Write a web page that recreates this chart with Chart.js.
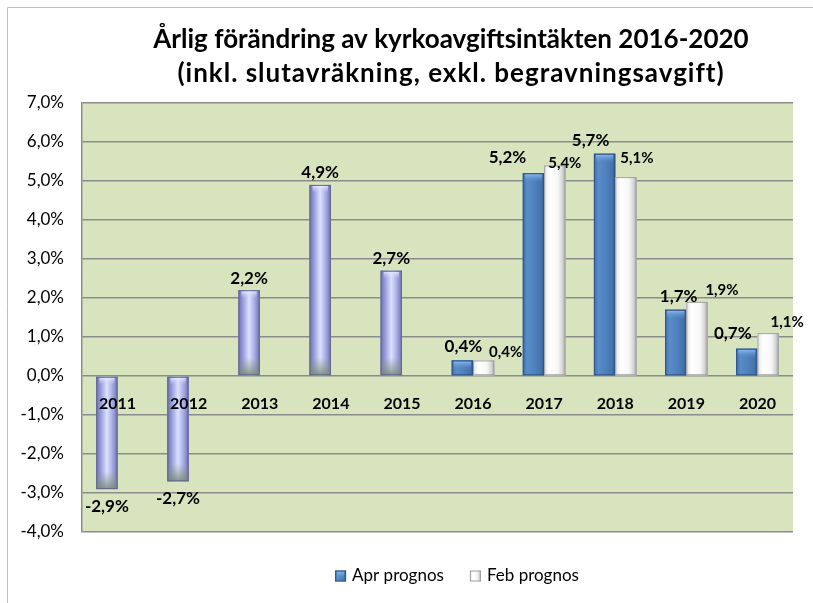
<!DOCTYPE html>
<html><head><meta charset="utf-8">
<script src="https://cdn.jsdelivr.net/npm/chart.js@4.4.1/dist/chart.umd.min.js"></script>
<style>html,body{margin:0;padding:0;background:#fff}#wrap{position:relative;width:813px;height:603px}</style>
</head><body><div id="wrap"><canvas id="c" width="813" height="603"></canvas></div>
<script>
// ---- data ----
const years = ['2011','2012','2013','2014','2015','2016','2017','2018','2019','2020'];
const historic   = [-2.9, -2.7, 2.2, 4.9, 2.7, null, null, null, null, null];
const aprPrognos = [null, null, null, null, null, 0.4, 5.2, 5.7, 1.7, 0.7];
const febPrognos = [null, null, null, null, null, 0.4, 5.4, 5.1, 1.9, 1.1];
const yMin = -4, yMax = 7, yStep = 1;
const titleLines = ['Årlig förändring av kyrkoavgiftsintäkten 2016-2020', '(inkl. slutavräkning, exkl. begravningsavgift)'];
const seriesNames = ['Historik', 'Apr prognos', 'Feb prognos'];

// label nudges (pixels relative to bar centre / bar end), as placed in the original
const aprLabelNudge = [null, null, null, null, null, [1,-14], [-26,-16], [-14,-13], [3,-13], [-14,-15]];
const febLabelNudge = [null, null, null, null, null, [22,-8], [10,-2], [11,-19], [25,-12], [19,-11]];

const FONT = 'Lato, "Open Sans", sans-serif';
function fmt(v){ return v.toFixed(1).replace('.', ',') + '%'; }

function paintBar(ctx, look, left, top, w, h){
  if (h <= 0) return;
  ctx.save();
  let g = ctx.createLinearGradient(left, 0, left + w, 0);
  if (look === 'hist') {
    g.addColorStop(0, '#6C6FAD'); g.addColorStop(0.2, '#9699D8'); g.addColorStop(0.5, '#DCE2FF');
    g.addColorStop(0.8, '#9EA2DD'); g.addColorStop(1, '#6C6FAD');
  } else if (look === 'apr') {
    g.addColorStop(0, '#3E6AA3'); g.addColorStop(0.2, '#5A8CCB'); g.addColorStop(0.55, '#4F81BD');
    g.addColorStop(0.85, '#4574AE'); g.addColorStop(1, '#2F5A8E');
  } else {
    g.addColorStop(0, '#E2E2E2'); g.addColorStop(0.25, '#FFFFFF'); g.addColorStop(0.65, '#F7F7F7');
    g.addColorStop(0.85, '#D6D6D6'); g.addColorStop(1, '#A5A5A5');
  }
  ctx.fillStyle = g;
  ctx.fillRect(left, top, w, h);
  if (look === 'hist') {
    const bh = Math.min(18, h * 0.25);
    const vg = ctx.createLinearGradient(0, top + h - bh, 0, top + h);
    vg.addColorStop(0, 'rgba(140,155,135,0)'); vg.addColorStop(1, 'rgba(120,135,115,0.85)');
    ctx.fillStyle = vg; ctx.fillRect(left, top + h - bh, w, bh);
    const cg = ctx.createLinearGradient(0, top, 0, top + 8);
    cg.addColorStop(0, 'rgba(240,242,255,0.95)'); cg.addColorStop(1, 'rgba(200,205,245,0)');
    ctx.fillStyle = cg; ctx.fillRect(left + 3, top + 1, w - 6, 8);
    ctx.strokeStyle = '#63668F'; ctx.lineWidth = 1;
    ctx.strokeRect(left + 0.5, top + 0.5, w - 1, h - 1);
  } else if (look === 'apr') {
    const cg = ctx.createLinearGradient(0, top, 0, top + 10);
    cg.addColorStop(0, 'rgba(150,195,250,1)'); cg.addColorStop(1, 'rgba(80,130,190,0)');
    ctx.fillStyle = cg; ctx.fillRect(left + 2, top + 1, w - 4, 10);
    ctx.strokeStyle = '#2E5587'; ctx.lineWidth = 1;
    ctx.strokeRect(left + 0.5, top + 0.5, w - 1, h - 1);
  } else {
    ctx.strokeStyle = '#A0A0A0'; ctx.lineWidth = 1;
    ctx.strokeRect(left + 0.5, top + 0.5, w - 1, h - 1);
  }
  ctx.restore();
}

const decor = {
  id: 'decor',
  beforeDraw(chart){
    const {ctx, chartArea: a} = chart;
    ctx.save();
    ctx.fillStyle = '#fff'; ctx.fillRect(0, 0, chart.width, chart.height);
    ctx.strokeStyle = '#BEBEBE'; ctx.lineWidth = 1;
    ctx.beginPath(); ctx.moveTo(7.5, chart.height); ctx.lineTo(7.5, 7.5); ctx.lineTo(chart.width, 7.5); ctx.stroke();
    ctx.fillStyle = '#D7E4BD';
    ctx.fillRect(a.left, a.top, a.right - a.left, a.bottom - a.top);
    ctx.restore();
  },
  afterDatasetsDraw(chart){
    const ctx = chart.ctx;
    const looks = ['hist', 'apr', 'feb'];
    const boxes = [];
    chart.data.datasets.forEach((ds, di) => {
      const meta = chart.getDatasetMeta(di);
      meta.data.forEach((el, i) => {
        const v = ds.data[i];
        if (v == null) return;
        const p = el.getProps(['x', 'y', 'base', 'width'], true);
        const top = Math.min(p.y, p.base), h = Math.abs(p.base - p.y);
        paintBar(ctx, looks[di], p.x - p.width / 2, top, p.width, h);
        boxes.push({di, i, v, x: p.x, top, bottom: top + h});
      });
    });
    ctx.save();
    ctx.fillStyle = '#000'; ctx.textAlign = 'center'; ctx.textBaseline = 'middle';
    boxes.forEach(b => {
      let x = b.x, y;
      if (b.di === 0) {
        ctx.font = 'bold 17px ' + FONT;
        y = b.v < 0 ? b.bottom + 17 : b.top - 12;
      } else if (b.di === 1) {
        ctx.font = 'bold 17px ' + FONT;
        const n = aprLabelNudge[b.i]; x += n[0]; y = b.top + n[1];
      } else {
        ctx.font = 'bold 15px ' + FONT;
        const n = febLabelNudge[b.i]; x += n[0]; y = b.top + n[1];
      }
      ctx.fillText(fmt(b.v), x, y);
    });
    ctx.restore();
  },
  afterDraw(chart){
    const ctx = chart.ctx;
    const xs = chart.scales.x, ys = chart.scales.y;
    ctx.save();
    ctx.fillStyle = '#000'; ctx.textAlign = 'center'; ctx.textBaseline = 'middle';
    ctx.font = 'bold 16px ' + FONT;
    const y0 = ys.getPixelForValue(0);
    years.forEach((yr, i) => ctx.fillText(yr, xs.getPixelForTick(i), y0 + 28));
    // title
    ctx.font = 'bold 26px ' + FONT;
    ctx.fillText(titleLines[0], 451, 40);
    ctx.letterSpacing = '1px';
    ctx.fillText(titleLines[1], 451, 74);
    ctx.letterSpacing = '0px';
    // legend (series 1 and 2)
    ctx.font = '17px ' + FONT;
    ctx.textAlign = 'left';
    const items = [1, 2].map(di => ({label: chart.data.datasets[di].label, look: ['hist','apr','feb'][di]}));
    const box = 11, gap = 6, spacing = 26;
    const widths = items.map(it => box + gap + ctx.measureText(it.label).width);
    const total = widths.reduce((a, b) => a + b, 0) + spacing;
    let lx = 457 - total / 2;
    const ly = 576;
    items.forEach((it, k) => {
      paintBar(ctx, it.look, lx, ly - box / 2, box, box);
      ctx.fillStyle = '#000';
      ctx.fillText(it.label, lx + box + gap, ly);
      lx += widths[k] + spacing;
    });
    ctx.restore();
  }
};

new Chart(document.getElementById('c'), {
  type: 'bar',
  data: {
    labels: years,
    datasets: [
      {label: seriesNames[0], data: historic, stack: 'a', backgroundColor: '#9DA1DC'},
      {label: seriesNames[1], data: aprPrognos, stack: 'a', backgroundColor: '#4F81BD'},
      {label: seriesNames[2], data: febPrognos, stack: 'b', backgroundColor: '#FFFFFF'}
    ]
  },
  options: {
    responsive: false,
    animation: false,
    events: [],
    categoryPercentage: 0.6,
    barPercentage: 1.0,
    layout: {padding: {left: 0, right: 20, top: 103, bottom: 71}},
    plugins: {legend: {display: false}, title: {display: false}, tooltip: {enabled: false}},
    scales: {
      x: {
        ticks: {display: false},
        grid: {display: false},
        border: {display: false},
        afterFit(s){ s.height = 0; }
      },
      y: {
        stacked: true,
        min: yMin, max: yMax,
        ticks: {stepSize: yStep, callback: v => fmt(v), color: '#000', font: {family: FONT, size: 17}, padding: 18},
        grid: {color: '#8C8C8C', lineWidth: 1.5, drawTicks: false},
        border: {display: true, color: '#8C8C8C', width: 1.5},
        afterFit(s){ s.width = 82; }
      }
    }
  },
  plugins: [decor]
});
</script>
</body></html>
